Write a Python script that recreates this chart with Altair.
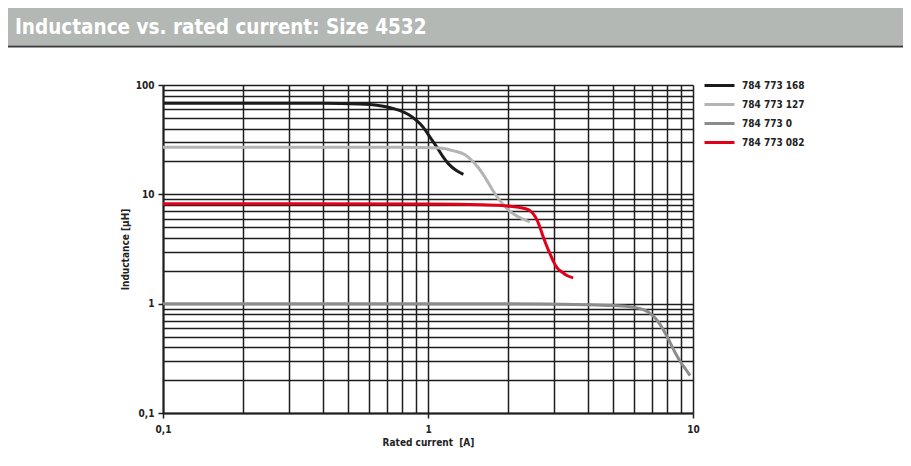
import altair as alt
import pandas as pd

TITLE = "Inductance vs. rated current: Size 4532"
X_TITLE = "Rated current\u00a0 [A]"
Y_TITLE = "Inductance [µH]"
FONT = "Liberation Sans Narrow, DejaVu Sans Condensed, Arial Narrow, sans-serif"

series_names = ["784 773 168", "784 773 127", "784 773 0", "784 773 082"]
series_colors = ["#1b1b1b", "#b4b4b4", "#8c8c8c", "#e3001b"]

current_168 = [0.1, 0.4, 0.55, 0.65, 0.72, 0.78, 0.84, 0.9, 0.96, 1.02, 1.08, 1.14, 1.2, 1.28, 1.36]
inductance_168 = [68, 68, 67, 65, 62, 58.5, 54, 48, 41, 33, 27, 22, 18.8, 16.5, 15.2]

current_127 = [0.1, 0.8, 1.1, 1.25, 1.38, 1.46, 1.55, 1.65, 1.75, 1.85, 1.95, 2.05, 2.2, 2.42]
inductance_127 = [27, 27, 26.5, 25, 23, 20.5, 17.5, 14, 11, 9, 7.8, 6.9, 6.2, 5.6]

current_0 = [0.1, 2.0, 4.0, 5.0, 5.9, 6.5, 6.87, 7.2, 7.5, 7.85, 8.2, 8.6, 9.0, 9.4, 9.75]
inductance_0 = [1.0, 1.0, 0.98, 0.96, 0.93, 0.88, 0.82, 0.74, 0.65, 0.54, 0.44, 0.35, 0.29, 0.25, 0.22]

current_082 = [0.1, 1.0, 1.6, 1.9, 2.2, 2.4, 2.5, 2.58, 2.66, 2.73, 2.8, 2.88, 2.97, 3.06, 3.2, 3.36, 3.53]
inductance_082 = [8.2, 8.15, 8.05, 7.9, 7.6, 7.2, 6.6, 5.8, 4.8, 4.0, 3.4, 2.9, 2.45, 2.15, 1.95, 1.8, 1.72]

x_grid_values = [0.1, 0.2, 0.3, 0.4, 0.5, 0.6, 0.7, 0.8, 0.9,
                 1, 2, 3, 4, 5, 6, 7, 8, 9, 10]
y_grid_values = [0.1, 0.2, 0.3, 0.4, 0.5, 0.6, 0.7, 0.8, 0.9,
                 1, 2, 3, 4, 5, 6, 7, 8, 9,
                 10, 20, 30, 40, 50, 60, 70, 80, 90, 100]

rows = []
for name, xs, ys in [
    (series_names[0], current_168, inductance_168),
    (series_names[1], current_127, inductance_127),
    (series_names[2], current_0, inductance_0),
    (series_names[3], current_082, inductance_082),
]:
    for i, (xv, yv) in enumerate(zip(xs, ys)):
        rows.append({"series": name, "current": xv, "inductance": yv, "order": i})
df = pd.DataFrame(rows)

MAJOR = "abs(log(datum.value)/log(10) - round(log(datum.value)/log(10))) < 1e-6"
LABEL_EXPR = f"({MAJOR}) ? replace(format(datum.value, '~g'), '.', ',') : ''"
TICK_OPACITY = {"condition": {"test": MAJOR, "value": 1}, "value": 0}

GRID = "#1e1e1e"

def make_axis(values, title, **kw):
    return alt.Axis(
        values=values,
        grid=True,
        gridColor=GRID,
        gridWidth=1.5,
        gridOpacity=1,
        labelExpr=LABEL_EXPR,
        labelOverlap=False,
        labelFlush=False,
        labelBound=False,
        tickOpacity=TICK_OPACITY,
        tickSize=5,
        tickWidth=1.5,
        tickColor=GRID,
        domainColor=GRID,
        domainWidth=2,
        labelFont=FONT,
        labelFontSize=10,
        labelFontWeight="bold",
        labelColor="#222222",
        title=title,
        titleFont=FONT,
        titleFontSize=10,
        titleFontWeight="bold",
        titleColor="#222222",
        **kw,
    )

lines = alt.Chart(df).mark_line(strokeWidth=3, interpolate="monotone").encode(
    x=alt.X("current:Q",
            scale=alt.Scale(type="log", domain=[0.1, 10], nice=False),
            axis=make_axis(x_grid_values, X_TITLE, labelPadding=6, titlePadding=3)),
    y=alt.Y("inductance:Q",
            scale=alt.Scale(type="log", domain=[0.1, 100], nice=False),
            axis=make_axis(y_grid_values, Y_TITLE, labelPadding=4, titlePadding=5)),
    color=alt.Color("series:N",
                    scale=alt.Scale(domain=series_names, range=series_colors),
                    legend=alt.Legend(
                        title=None,
                        orient="none",
                        legendX=550,
                        legendY=-6,
                        symbolType="M-3,0H3",
                        symbolSize=100,
                        symbolStrokeWidth=3,
                        labelFont=FONT,
                        labelFontSize=10,
                        labelFontWeight="bold",
                        labelColor="#222222",
                        rowPadding=6,
                        labelOffset=16,
                        padding=0,
                    )),
    order="order:Q",
)

bar = alt.Chart(pd.DataFrame({"k": [0]})).mark_rect(color="#b3b8b5").encode(
    x=alt.value(-155), x2=alt.value(740), y=alt.value(-77), y2=alt.value(-39.5)
)
bar_line = alt.Chart(pd.DataFrame({"k": [0]})).mark_rect(color="#3c3c3c").encode(
    x=alt.value(-155), x2=alt.value(740), y=alt.value(-39.5), y2=alt.value(-37.5)
)
title_text = alt.Chart(pd.DataFrame({"t": [TITLE]})).mark_text(
    align="left", baseline="alphabetic", color="white", font=FONT,
    fontSize=20.5, fontWeight="bold"
).encode(text="t:N", x=alt.value(-148), y=alt.value(-51))

chart = alt.layer(bar, bar_line, title_text, lines).properties(
    width=530,
    height=328,
    padding={"left": 155, "top": 77, "right": 210, "bottom": 36},
    autosize="none",
    background="white",
).configure_view(stroke=None)

chart.save("out.html", embed_options={"renderer": "svg", "actions": False})
